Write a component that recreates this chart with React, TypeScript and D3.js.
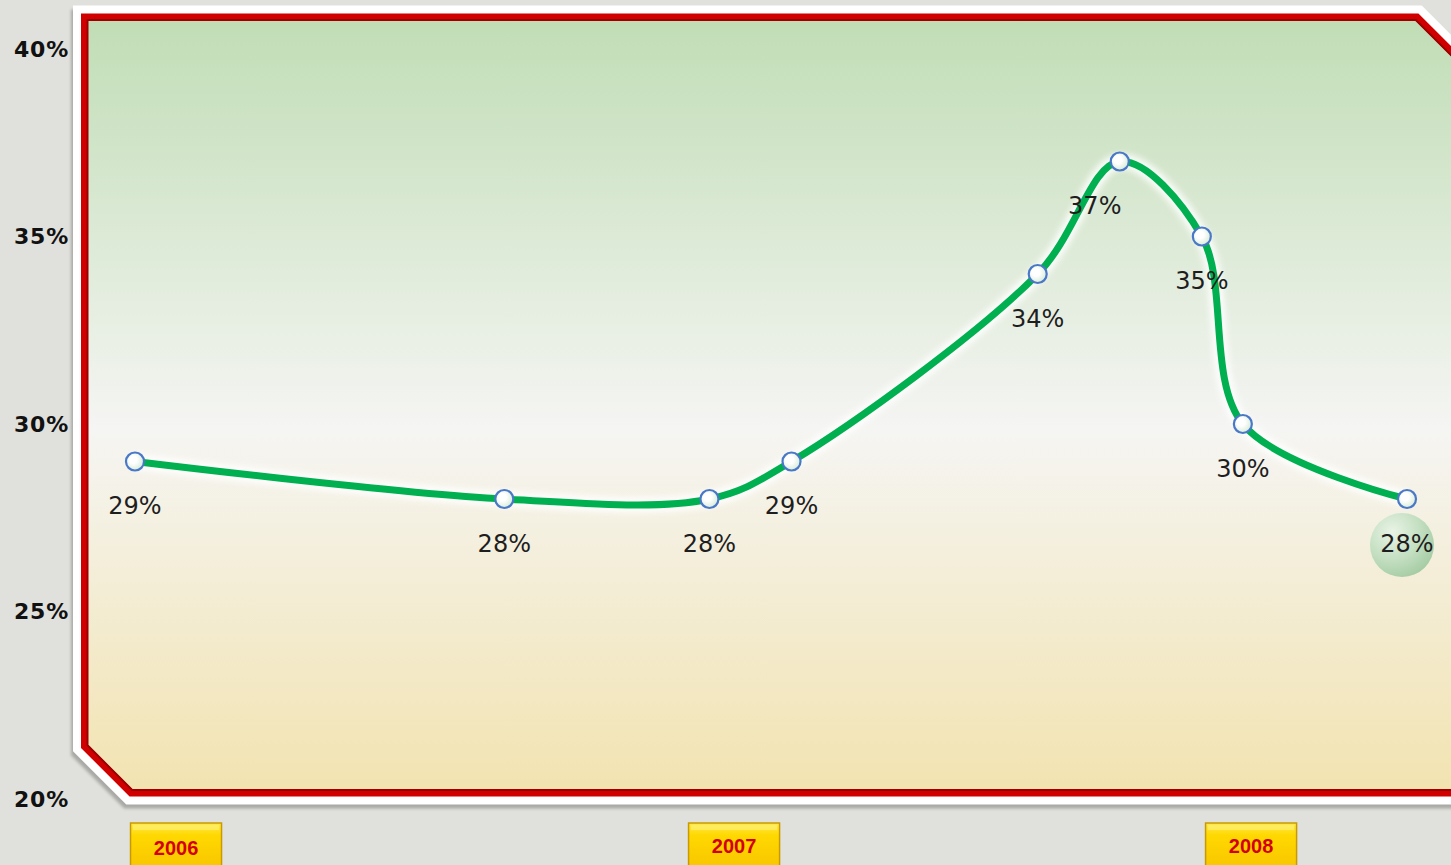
import * as d3 from 'd3';

// month index of each observation and its share (%)
const months = [0, 9, 14, 16, 22, 24, 26, 27, 31];
const values = [29, 28, 28, 29, 34, 37, 35, 30, 28];
const yTicks = [20, 25, 30, 35, 40];
const yearLabels = ['2006', '2007', '2008'];
const yearPos = [1, 14.6, 27.2];

const W = 1451;
const H = 865;

export default function App() {
  const x = d3.scaleLinear().domain([0, 31]).range([135, 1407]);
  const y = d3.scaleLinear().domain([20, 40]).range([799, 49]);

  const pts = months.map((m, i) => [x(m), y(values[i])] as [number, number]);
  const line = d3.line().curve(d3.curveCatmullRom.alpha(0.5))(pts) || '';

  // chamfered plot frame
  const frame = 'M84.5,17 L1417,17 L1520,120 L1520,793 L131,793 L84.5,746.5 Z';
  const inner = 'M87.5,20 L1415.8,20 L1517,121.2 L1517,790 L132.2,790 L87.5,745.3 Z';
  const peak = values.indexOf(d3.max(values) as number);
  const last = pts[pts.length - 1];

  return (
    <div style={{ position: 'fixed', left: 0, top: 0 }}>
      <svg width={W} height={H} style={{ display: 'block' }}>
        <defs>
          <linearGradient id="bg" x1="0" y1="0" x2="0" y2="1">
            <stop offset="0" stopColor="#c0ddb5" />
            <stop offset="0.53" stopColor="#f5f5f3" />
            <stop offset="1" stopColor="#f2e3b0" />
          </linearGradient>
          <linearGradient id="gold" x1="0" y1="0" x2="0" y2="1">
            <stop offset="0" stopColor="#ffe94d" />
            <stop offset="0.25" stopColor="#ffd800" />
            <stop offset="1" stopColor="#f7c300" />
          </linearGradient>
          <radialGradient id="mk" cx="0.4" cy="0.4" r="0.7">
            <stop offset="0.3" stopColor="#ffffff" />
            <stop offset="1" stopColor="#cfe8cf" />
          </radialGradient>
          <radialGradient id="bubble" cx="0.35" cy="0.3" r="0.75">
            <stop offset="0" stopColor="#e8f4e6" />
            <stop offset="0.6" stopColor="#bcdcbc" />
            <stop offset="1" stopColor="#9cc89e" />
          </radialGradient>
          <filter id="glow" x="-10%" y="-10%" width="120%" height="120%">
            <feGaussianBlur stdDeviation="3" />
          </filter>
          <filter id="shade" x="-10%" y="-10%" width="120%" height="120%">
            <feGaussianBlur stdDeviation="1.5" />
          </filter>
        </defs>

        <rect width={W} height={H} fill="#e0e0dc" />

        {/* frame */}
        <path d={frame} transform="translate(-2,4)" fill="none" stroke="#a9a9a6" strokeWidth={23} filter="url(#shade)" />
        <path d={frame} fill="none" stroke="#ffffff" strokeWidth={23} />
        <path d={frame} fill="url(#bg)" />
        <path d={frame} fill="none" stroke="#d00000" strokeWidth={7} />
        <path d={inner} fill="none" stroke="#9c0000" strokeWidth={2} />

        {/* y axis */}
        {yTicks.map((t) => (
          <text
            key={t}
            x={69}
            y={y(t)}
            dy="0.36em"
            textAnchor="end"
            fontFamily="DejaVu Sans"
            fontWeight="bold"
            fontSize={22}
            letterSpacing={0.8}
            fill="#111"
          >
            {t}%
          </text>
        ))}

        {/* year boxes */}
        {yearLabels.map((lab, i) => {
          const cx = x(yearPos[i]);
          return (
            <g key={lab}>
              <rect x={cx - 45.5} y={823} width={91} height={50} fill="url(#gold)" stroke="#c99a00" strokeWidth={1.5} />
              <rect x={cx - 43} y={825} width={86} height={5} fill="#fff27a" opacity={0.6} />
              <text
                x={cx}
                y={i === 0 ? 848 : 846}
                dy="0.36em"
                textAnchor="middle"
                fontFamily="Liberation Sans"
                fontWeight="bold"
                fontSize={20}
                fill="#d40000"
              >
                {lab}
              </text>
            </g>
          );
        })}

        {/* line */}
        <path d={line} fill="none" stroke="#ffffff" strokeWidth={15} opacity={0.9} filter="url(#glow)" />
        <path d={line} fill="none" stroke="#00b050" strokeWidth={7} strokeLinecap="round" />

        {/* highlight bubble on last point */}
        <circle cx={last[0] - 5} cy={last[1] + 46} r={32} fill="url(#bubble)" opacity={0.9} />

        {/* markers */}
        {pts.map(([px, py], i) => (
          <circle key={i} cx={px} cy={py} r={9} fill="url(#mk)" stroke="#4a78c8" strokeWidth={2.2} />
        ))}

        {/* value labels */}
        {pts.map(([px, py], i) => (
          <text
            key={'l' + i}
            x={px + (i === peak ? -25 : 0)}
            y={py + 44}
            dy="0.36em"
            textAnchor="middle"
            fontFamily="DejaVu Sans"
            fontSize={24}
            fill="#1e1e1e"
          >
            {values[i]}%
          </text>
        ))}
      </svg>
    </div>
  );
}
